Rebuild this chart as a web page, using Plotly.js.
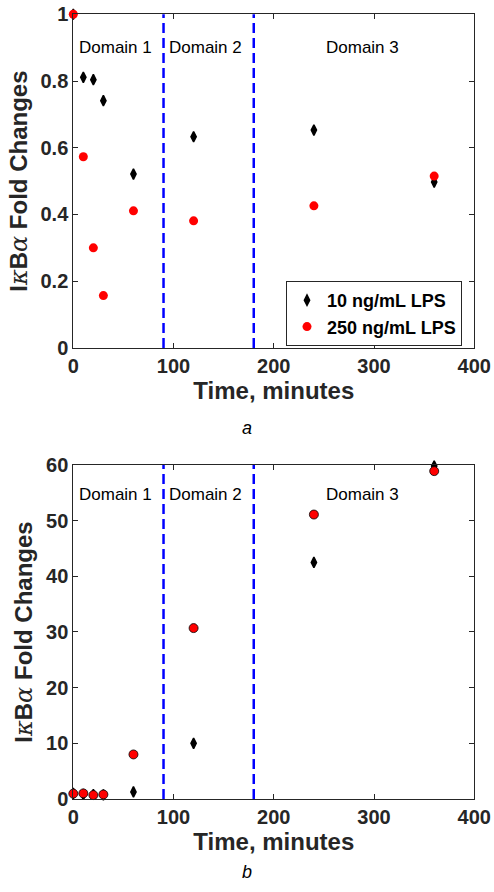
<!DOCTYPE html>
<html>
<head>
<meta charset="utf-8">
<script src="https://cdn.plot.ly/plotly-3.0.1.min.js"></script>
<style>html,body{margin:0;padding:0;background:#fff;}#chart{width:494px;height:892px;}</style>
</head>
<body>
<div id="chart"></div>
<script>
// ---- data ----
const timeMinutes = [0, 10, 20, 30, 60, 120, 240, 360];
const lps10_a  = [1.0, 0.811, 0.804, 0.741, 0.521, 0.633, 0.653, 0.497];
const lps250_a = [1.0, 0.573, 0.300, 0.157, 0.411, 0.381, 0.426, 0.515];
const lps10_b  = [1.0, 0.81, 0.80, 0.74, 1.26, 10.0, 42.5, 59.8];
const lps250_b = [0.96, 1.0, 0.7, 0.8, 8.0, 30.7, 51.1, 58.9];
const seriesNames = ['10 ng/mL LPS', '250 ng/mL LPS'];
const domainBounds = [90, 180];
const domainLabels = ['Domain 1', 'Domain 2', 'Domain 3'];
const domainLabelX = [42, 132, 288];
const xTicks = [0, 100, 200, 300, 400];
const yTicksA = [0, 0.2, 0.4, 0.6, 0.8, 1];
const yTicksB = [0, 10, 20, 30, 40, 50, 60];
const panelLabels = ['a', 'b'];

const FONT = 'Liberation Sans, Arial, Helvetica, sans-serif';
const AX = '#262626';

const diamond = {symbol: 'diamond-tall', size: 7.5, color: '#000', line: {color: '#000', width: 1.5}};

const traces = [
  {x: timeMinutes, y: lps10_a, name: seriesNames[0], mode: 'markers', type: 'scatter', cliponaxis: false,
   marker: diamond, xaxis: 'x', yaxis: 'y'},
  {x: timeMinutes, y: lps250_a, name: seriesNames[1], mode: 'markers', type: 'scatter', cliponaxis: false,
   marker: {symbol: 'circle', size: 9, color: '#ff0000'}, xaxis: 'x', yaxis: 'y'},
  {x: timeMinutes, y: lps10_b, name: seriesNames[0], mode: 'markers', type: 'scatter', showlegend: false, cliponaxis: false,
   marker: diamond, xaxis: 'x2', yaxis: 'y2'},
  {x: timeMinutes, y: lps250_b, name: seriesNames[1], mode: 'markers', type: 'scatter', showlegend: false, cliponaxis: false,
   marker: {symbol: 'circle', size: 9, color: '#ff0000', line: {color: '#000', width: 0.8}}, xaxis: 'x2', yaxis: 'y2'}
];

const yTitle = 'I<span style="font-weight:normal;font-family:DejaVu Serif, serif"><i>κ</i></span>B<span style="font-weight:normal;font-family:DejaVu Serif, serif"><i>α</i></span> Fold Changes';

function xax(anchor) {
  return {
    domain: [0.1484, 0.9601], range: [0, 400], anchor: anchor,
    tickvals: xTicks, ticktext: xTicks.map(String),
    ticks: 'inside', ticklen: 5, tickcolor: AX, tickwidth: 1,
    showline: true, linecolor: AX, linewidth: 1, mirror: 'ticks',
    showgrid: false, zeroline: false,
    tickfont: {family: FONT, size: 20, color: AX, weight: 'bold'},
    title: {text: 'Time, minutes', font: {family: FONT, size: 24, color: AX, weight: 'bold'}, standoff: 6}
  };
}
function yax(anchor, dom, rng, ticks) {
  return {
    domain: dom, range: rng, anchor: anchor,
    tickvals: ticks, ticktext: ticks.map(String),
    ticks: 'inside', ticklen: 5, tickcolor: AX, tickwidth: 1,
    showline: true, linecolor: AX, linewidth: 1, mirror: 'ticks',
    showgrid: false, zeroline: false,
    tickfont: {family: FONT, size: 20, color: AX, weight: 'bold'},
    title: {text: yTitle, font: {family: FONT, size: 24, color: AX, weight: 'bold'}, standoff: 6}
  };
}

const shapes = [];
const annotations = [];
[['x', 'y'], ['x2', 'y2']].forEach(function (p) {
  domainBounds.forEach(function (b) {
    shapes.push({type: 'line', xref: p[0], yref: p[1] + ' domain', x0: b, x1: b, y0: 0, y1: 1,
      line: {color: '#0000ff', width: 2.5, dash: '10px,5px'}});
  });
});
domainLabels.forEach(function (t, i) {
  annotations.push({text: t, x: domainLabelX[i], y: 0.9, xref: 'x', yref: 'y', showarrow: false,
    font: {family: FONT, size: 17, color: '#000'}});
  annotations.push({text: t, x: domainLabelX[i], y: 54.7, xref: 'x2', yref: 'y2', showarrow: false,
    font: {family: FONT, size: 17, color: '#000'}});
});
annotations.push({text: '<i>' + panelLabels[0] + '</i>', x: 0.5, y: 1 - 428 / 892, xref: 'paper', yref: 'paper',
  showarrow: false, font: {family: FONT, size: 18, color: '#000'}});
annotations.push({text: '<i>' + panelLabels[1] + '</i>', x: 0.5, y: 1 - 884 / 892, xref: 'paper', yref: 'paper',
  showarrow: false, font: {family: FONT, size: 18, color: '#000'}});

const layout = {
  width: 494, height: 892,
  margin: {l: 0, r: 0, t: 0, b: 0},
  paper_bgcolor: '#fff', plot_bgcolor: '#fff',
  showlegend: true,
  legend: {x: 286 / 494, y: 1 - 281 / 892, xanchor: 'left', yanchor: 'top',
    bgcolor: '#fff', bordercolor: AX, borderwidth: 1,
    font: {family: FONT, size: 18, color: '#000', weight: 'bold'}, tracegroupgap: 0},
  xaxis: xax('y'),
  yaxis: yax('x', [0.6099, 0.9840], [0, 1], yTicksA),
  xaxis2: xax('y2'),
  yaxis2: yax('x2', [0.1043, 0.4787], [0, 60], yTicksB),
  shapes: shapes,
  annotations: annotations
};

Plotly.newPlot('chart', traces, layout, {displayModeBar: false, staticPlot: true});
</script>
</body>
</html>
